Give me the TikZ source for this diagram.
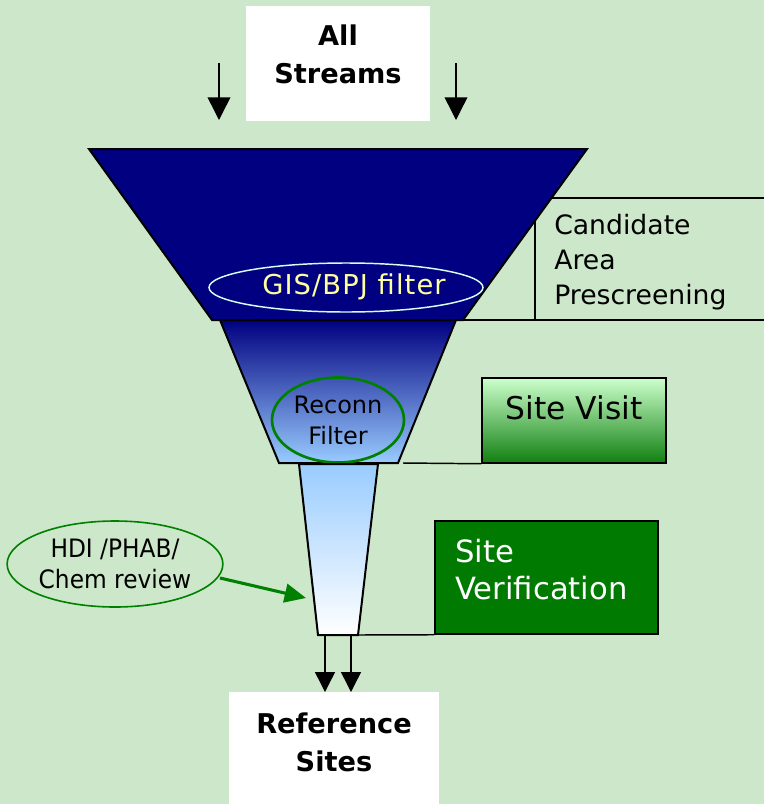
\documentclass[tikz,border=0pt]{standalone}
\usepackage{fontspec}
\setmainfont{DejaVu Sans}
\newfontfamily\narrowsans[FakeStretch=0.92]{DejaVu Sans}
\usetikzlibrary{arrows.meta,shapes.geometric}

\definecolor{bg}{RGB}{204,231,202}
\definecolor{navyfill}{RGB}{0,0,128}
\definecolor{skyblue}{RGB}{153,204,255}
\definecolor{mint}{RGB}{204,255,204}
\definecolor{leaf}{RGB}{16,128,16}
\definecolor{verif}{RGB}{0,122,0}
\definecolor{paleyellow}{RGB}{255,255,160}
\definecolor{palecyan}{RGB}{215,255,240}
\definecolor{rimgreen}{RGB}{0,128,0}

\tikzset{
  funnel/.style={draw=black, line width=1.5pt, line join=miter},
  rule/.style={draw=black, line width=1.1pt},
  flowarrow/.style={draw=black, line width=1.1pt, -{Triangle[width=17pt,length=17pt]}},
  outarrow/.style={draw=black, line width=1.1pt, -{Triangle[width=15pt,length=15pt]}},
  whitebox/.style={rectangle, fill=white, inner sep=0pt},
  boldlbl/.style={font=\fontsize{20.4}{28.5}\selectfont\bfseries, align=center, inner sep=0pt},
  filterring/.style={ellipse, inner sep=0pt},
}

\begin{document}
\begin{tikzpicture}[x=0.75pt,y=-0.75pt]
  % canvas
  \fill[bg] (0,0) rectangle (764,804);
  \useasboundingbox (0,0) rectangle (764,804);

  % ---- input box and arrows ----
  \node[whitebox, minimum width=138pt, minimum height=86.25pt] (streams) at (338,63.5) {};
  \node[boldlbl] (streamslbl) at (338,54) {All\\Streams};
  \coordinate (inLs) at (219,63);  \coordinate (inLe) at (219,120);
  \coordinate (inRs) at (456,63);  \coordinate (inRe) at (456,120);
  \draw[flowarrow] (inLs) -- (inLe);
  \draw[flowarrow] (inRs) -- (inRe);

  % ---- funnel stage 1 ----
  \coordinate (f1tl) at (89,149);  \coordinate (f1tr) at (587,149);
  \coordinate (f1br) at (463,320); \coordinate (f1bl) at (212,320);
  \fill[navyfill] (f1tl) -- (f1tr) -- (f1br) -- (f1bl) -- cycle;
  \draw[funnel] (f1tl) -- (f1tr) -- (f1br) -- (f1bl) -- cycle;

  \node[filterring, draw=palecyan, line width=1.1pt,
        minimum width=205.5pt, minimum height=36.75pt] (gis) at (346,287.5) {};
  \node[text=paleyellow, font=\fontsize{20.5}{24}\selectfont\addfontfeature{LetterSpace=4}, inner sep=0pt]
    (gislbl) at (354,287) {GIS/BPJ filter};

  % bracket for prescreening
  \coordinate (b1a) at (552,198); \coordinate (b1b) at (764,198);
  \coordinate (b1c) at (535,221); \coordinate (b1d) at (535,320);
  \coordinate (b1e) at (463,320); \coordinate (b1f) at (764,320);
  \draw[rule] (b1a) -- (b1b);
  \draw[rule] (b1c) -- (b1d);
  \draw[rule] (b1e) -- (b1f);
  \node[anchor=west, align=left, inner sep=0pt, font=\fontsize{20}{26.25}\selectfont] (prescreen) at (554,262)
    {Candidate\\Area\\Prescreening};

  % ---- funnel stage 2 ----
  \coordinate (f2tl) at (220,320); \coordinate (f2tr) at (456,320);
  \coordinate (f2br) at (398,463); \coordinate (f2bl) at (279,463);
  \shade[top color=navyfill, bottom color=skyblue] (f2tl) -- (f2tr) -- (f2br) -- (f2bl) -- cycle;
  \draw[funnel] (f2tl) -- (f2tr) -- (f2br) -- (f2bl) -- cycle;

  \node[filterring, draw=rimgreen, line width=2pt, align=center,
        minimum width=99pt, minimum height=63.75pt,
        font=\fontsize{18}{23.25}\selectfont] (reconn) at (338,420) {Reconn\\Filter};

  \node[rectangle, draw=black, line width=1.1pt, top color=mint, bottom color=leaf,
        minimum width=138pt, minimum height=63.75pt, inner sep=0pt] (visit) at (574,420.5) {};
  \node[font=\fontsize{23.5}{28}\selectfont, inner sep=0pt] (visitlbl) at (574,408) {Site Visit};
  \coordinate (b2a) at (403,463);
  \draw[rule] (b2a) -- (visit.south west);

  % ---- funnel stage 3 ----
  \coordinate (f3tl) at (299,464); \coordinate (f3tr) at (378,464);
  \coordinate (f3br) at (358,635); \coordinate (f3bl) at (318,635);
  \shade[top color=skyblue, bottom color=white] (f3tl) -- (f3tr) -- (f3br) -- (f3bl) -- cycle;
  \draw[funnel] (f3tl) -- (f3tr) -- (f3br) -- (f3bl) -- cycle;

  \node[rectangle, draw=black, line width=1.1pt, fill=verif,
        minimum width=167.25pt, minimum height=84.75pt, inner sep=0pt] (verify) at (546.5,577.5) {};
  \node[anchor=west, align=left, text=white, inner sep=0pt,
        font=\fontsize{23}{27.75}\selectfont] (verifylbl) at (455,570) {Site\\Verification};
  \draw[rule] (f3br) -- (verify.south west);

  % ---- desk review feeding stage 3 ----
  \node[filterring, draw=rimgreen, line width=1.2pt, align=center,
        minimum width=157.5pt, minimum height=64.5pt,
        font=\fontsize{19}{23.25}\narrowsans\selectfont] (hdi) at (115,564) {HDI /PHAB/\\Chem review};
  \coordinate (hdiout) at (220,578);
  \coordinate (hdiin) at (306,598);
  \draw[draw=rimgreen, line width=2.3pt, -{Triangle[width=14pt,length=16pt]}] (hdiout) -- (hdiin);

  % ---- output ----
  \coordinate (outLs) at (325,635); \coordinate (outLe) at (325,692);
  \coordinate (outRs) at (351,635); \coordinate (outRe) at (351,692);
  \node[whitebox, minimum width=157.5pt, minimum height=84pt] (refsites) at (334,748) {};
  \node[boldlbl] (refsiteslbl) at (334,742) {Reference\\Sites};
  \draw[outarrow] (outLs) -- (outLe);
  \draw[outarrow] (outRs) -- (outRe);
\end{tikzpicture}
\end{document}
